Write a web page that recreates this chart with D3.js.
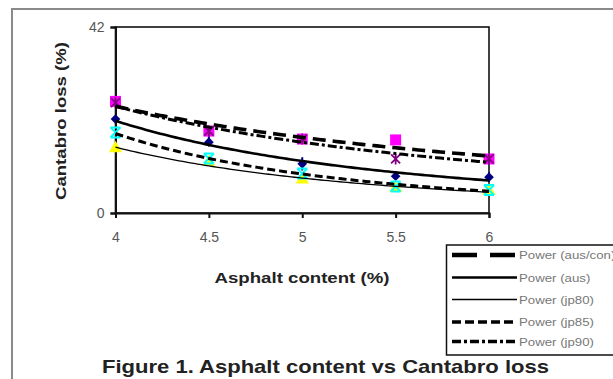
<!DOCTYPE html>
<html><head><meta charset="utf-8">
<script src="https://cdn.jsdelivr.net/npm/d3@7"></script>
<style>
html,body{margin:0;padding:0;background:#fff;overflow:hidden}
svg{display:block;font-family:"Liberation Sans",Arial,sans-serif}
</style></head>
<body>
<script>
// ---- data ----
const asphalt = [4, 4.5, 5, 5.5, 6];
const ausCon = [25.2, 18.5, 16.7, 16.5, 12.2];
const aus    = [21.2, 16.0, 11.1, 8.3, 8.1];
const ausErrUp   = [0, 2.7, 1.5, 1.0, 1.1];
const ausErrDown = [0, 0, 1.5, 0.5, 1.1];
const jp80 = [14.6, 11.5, 7.5, 5.6, 5.0];
const jp85 = [18.2, 12.3, 8.9, 6.0, 5.2];
const jp90 = [24.9, 18.5, 16.7, 12.2, 12.2];
const xTicks = [4, 4.5, 5, 5.5, 6];
const yTicks = [0, 42];
const legendLabels = ["Power (aus/con)", "Power (aus)", "Power (jp80)", "Power (jp85)", "Power (jp90)"];

const W = 613, H = 379;
const svg = d3.select("body").append("svg").attr("width", W).attr("height", H);

function stretch(sel, factor) {
  const w = sel.node().getComputedTextLength();
  sel.attr("textLength", w * factor).attr("lengthAdjust", "spacingAndGlyphs");
}

// outer frame
svg.append("rect").attr("x", 12).attr("y", 9).attr("width", 640).attr("height", 420)
  .attr("fill", "none").attr("stroke", "#8a8a8a").attr("stroke-width", 2);

const x = d3.scaleLinear().domain([4, 6]).range([115.5, 489]);
const y = d3.scaleLinear().domain([0, 42]).range([213, 27]);

// plot box
svg.append("rect").attr("x", x(4)).attr("y", y(42)).attr("width", x(6) - x(4)).attr("height", y(0) - y(42))
  .attr("fill", "none").attr("stroke", "#111").attr("stroke-width", 1.6);

// axes
const xAxis = svg.append("g").attr("transform", `translate(0,${y(0)})`)
  .call(d3.axisBottom(x).tickValues(xTicks).tickFormat(d3.format("")).tickSize(5).tickPadding(14));
const yAxis = svg.append("g").attr("transform", `translate(${x(4)},0)`)
  .call(d3.axisLeft(y).tickValues(yTicks).tickSize(5).tickPadding(6));
[xAxis, yAxis].forEach(g => {
  g.select(".domain").attr("stroke", "#111").attr("stroke-width", 2);
  g.selectAll(".tick line").attr("stroke", "#111").attr("stroke-width", 2);
  g.selectAll(".tick text").attr("fill", "#555").style("font-size", "14px")
    .style("font-family", '"Liberation Sans",Arial,sans-serif');
});

// markers
const mk = svg.append("g");
// aus: navy diamonds + error bars
asphalt.forEach((a, i) => {
  if (ausErrUp[i] + ausErrDown[i] > 0) {
    mk.append("line").attr("x1", x(a)).attr("x2", x(a))
      .attr("y1", y(aus[i] + ausErrUp[i])).attr("y2", y(aus[i] - ausErrDown[i]))
      .attr("stroke", "#000080").attr("stroke-width", 2);
  }
  mk.append("path").attr("d", d3.symbol(d3.symbolDiamond2, 60)())
    .attr("transform", `translate(${x(a)},${y(aus[i])})`).attr("fill", "#000080");
});
// aus/con: magenta squares
asphalt.forEach((a, i) => {
  mk.append("rect").attr("x", x(a) - 5.5).attr("y", y(ausCon[i]) - 5.5).attr("width", 11).attr("height", 11)
    .attr("fill", "#ff00ff");
});
// jp80: yellow triangles
asphalt.forEach((a, i) => {
  mk.append("path").attr("d", d3.symbol(d3.symbolTriangle, 75)())
    .attr("transform", `translate(${x(a)},${y(jp80[i])})`).attr("fill", "#ffff00");
});
// jp85: cyan X
asphalt.forEach((a, i) => {
  const cx = x(a), cy = y(jp85[i]), s = 5;
  mk.append("path").attr("d", `M${cx-s},${cy-s}L${cx+s},${cy+s}M${cx-s},${cy+s}L${cx+s},${cy-s}M${cx-s},${cy-s}L${cx+s},${cy-s}M${cx-s},${cy+s}L${cx+s},${cy+s}`)
    .attr("stroke", "#00ffff").attr("stroke-width", 2).attr("fill", "none");
});
// jp90: purple star
asphalt.forEach((a, i) => {
  const cx = x(a), cy = y(jp90[i]), s = 4.5;
  mk.append("path").attr("d", `M${cx-s},${cy-s}L${cx+s},${cy+s}M${cx-s},${cy+s}L${cx+s},${cy-s}M${cx},${cy-s-1}L${cx},${cy+s+1}`)
    .attr("stroke", "#800080").attr("stroke-width", 1.8).attr("fill", "none");
});

// power trendlines (least squares in log space, from data)
function powerFit(xs, ys) {
  const lx = xs.map(Math.log), ly = ys.map(Math.log);
  const mx = d3.mean(lx), my = d3.mean(ly);
  const b = d3.sum(lx, (v, i) => (v - mx) * (ly[i] - my)) / d3.sum(lx, v => (v - mx) ** 2);
  const a = Math.exp(my - b * mx);
  return t => a * Math.pow(t, b);
}
const styles = [
  {data: ausCon, w: 3.6, dash: "13,7"},
  {data: aus,    w: 2.6, dash: null},
  {data: jp80,   w: 1.3, dash: null},
  {data: jp85,   w: 3,   dash: "8,4"},
  {data: jp90,   w: 3,   dash: "9,3,3,3"}
];
const samples = d3.range(0, 101).map(k => 4 + k * 0.02);
const line = d3.line().x(d => x(d[0])).y(d => y(d[1]));
styles.forEach(s => {
  const f = powerFit(asphalt, s.data);
  svg.append("path").attr("d", line(samples.map(t => [t, f(t)])))
    .attr("fill", "none").attr("stroke", "#000").attr("stroke-width", s.w)
    .attr("stroke-dasharray", s.dash);
});

// axis titles
const xt = svg.append("text").attr("x", 302).attr("y", 283).attr("text-anchor", "middle")
  .style("font-size", "15.5px").style("font-weight", "bold").attr("fill", "#222").text("Asphalt content (%)");
stretch(xt, 175 / xt.node().getComputedTextLength());
const yt = svg.append("text").attr("transform", "translate(66,121) rotate(-90)").attr("text-anchor", "middle")
  .style("font-size", "15.5px").style("font-weight", "bold").attr("fill", "#222").text("Cantabro loss (%)");
stretch(yt, 158 / yt.node().getComputedTextLength());

// legend
const lg = svg.append("g");
lg.append("rect").attr("x", 446.5).attr("y", 245).attr("width", 200).attr("height", 110)
  .attr("fill", "#fff").attr("stroke", "#111").attr("stroke-width", 1.5);
const legendDash = [
  {w: 4.5, dash: "25,13"},
  {w: 2.6, dash: null},
  {w: 1.3, dash: null},
  {w: 3.5, dash: "9,4"},
  {w: 3.5, dash: "9,3,3,3"}
];
const rowY = [255, 277.5, 299.5, 322, 341.5];
legendLabels.forEach((lab, i) => {
  lg.append("line").attr("x1", 452).attr("x2", 517).attr("y1", rowY[i]).attr("y2", rowY[i])
    .attr("stroke", "#000").attr("stroke-width", legendDash[i].w).attr("stroke-dasharray", legendDash[i].dash);
  const t = lg.append("text").attr("x", 519).attr("y", rowY[i] + 4).style("font-size", "11.5px")
    .attr("fill", "#777").text(lab);
  stretch(t, 1.15);
});

// figure caption
const cap = svg.append("text").attr("x", 325.5).attr("y", 373).attr("text-anchor", "middle")
  .style("font-size", "19px").style("font-weight", "bold").attr("fill", "#222")
  .text("Figure 1. Asphalt content vs Cantabro loss");
stretch(cap, 447 / cap.node().getComputedTextLength());
</script>
</body></html>
